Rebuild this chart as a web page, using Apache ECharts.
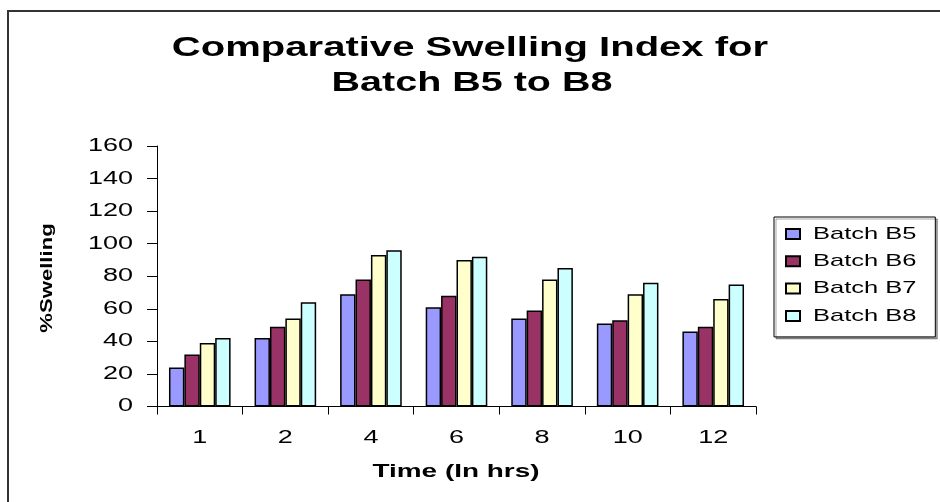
<!DOCTYPE html>
<html>
<head>
<meta charset="utf-8">
<script src="https://cdn.jsdelivr.net/npm/echarts@6/dist/echarts.min.js"></script>
<style>
html,body{margin:0;padding:0;background:#fff;}
#chart{width:940px;height:502px;}
</style>
</head>
<body>
<div id="chart"></div>
<script>
var titleLines = ['Comparative Swelling Index for', 'Batch B5 to B8'];
var xAxisTitle = 'Time (In hrs)';
var yAxisTitle = '%Swelling';
var categories = ['1', '2', '4', '6', '8', '10', '12'];
var seriesNames = ['Batch B5', 'Batch B6', 'Batch B7', 'Batch B8'];
var batchB5 = [24, 42, 69, 61, 54, 51, 46];
var batchB6 = [32, 49, 78, 68, 59, 53, 49];
var batchB7 = [39, 54, 93, 90, 78, 69, 66];
var batchB8 = [42, 64, 96, 92, 85, 76, 75];
var seriesColors = ['#9999FF', '#993366', '#FFFFCC', '#CCFFFF'];

var FONT = '"Liberation Sans", Arial, Helvetica, sans-serif';
var WIDE = 1.5; // the reference's lettering is drawn wide
var chart = echarts.init(document.getElementById('chart'), null, {renderer: 'canvas'});
var allData = [batchB5, batchB6, batchB7, batchB8];

function textEl(txt, x, y, size, sx, rot) {
  return {
    type: 'text', name: 'keepScale', x: x, y: y, rotation: rot || 0, scaleX: sx, silent: true,
    style: {
      text: txt, fill: '#000', font: 'bold ' + size + 'px ' + FONT,
      fontSize: size, fontWeight: 'bold', fontFamily: FONT,
      align: 'center', verticalAlign: 'middle',
      textAlign: 'center', textVerticalAlign: 'middle'
    }
  };
}

var option = {
  animation: false,
  backgroundColor: '#fff',
  textStyle: {fontFamily: FONT},
  grid: {left: 157, right: 184, top: 146, bottom: 95.5, containLabel: false},
  legend: {
    orient: 'vertical',
    left: 774, top: 217,
    padding: [7, 11, 11, 11],
    itemWidth: 14, itemHeight: 10,
    itemGap: 7.3,
    icon: 'rect',
    borderColor: '#000', borderWidth: 1,
    backgroundColor: '#fff',
    shadowColor: 'rgba(0,0,0,0.35)', shadowBlur: 0, shadowOffsetX: 2, shadowOffsetY: 2,
    textStyle: {color: '#000', fontSize: 17, fontFamily: FONT, lineHeight: 20, width: 114, padding: [0, 0, 0, 5.3]},
    data: seriesNames
  },
  xAxis: {
    type: 'category',
    data: categories,
    axisLine: {lineStyle: {color: '#000', width: 1}},
    axisTick: {show: true, length: 8, lineStyle: {color: '#000'}, alignWithLabel: false},
    axisLabel: {color: '#000', fontSize: 18, margin: 23, fontFamily: FONT},
    splitLine: {show: false}
  },
  yAxis: {
    type: 'value',
    min: 0, max: 160, interval: 20,
    axisLine: {show: true, lineStyle: {color: '#000', width: 1}},
    axisTick: {show: true, length: 10, lineStyle: {color: '#000'}},
    axisLabel: {color: '#000', fontSize: 18, margin: 24, fontFamily: FONT},
    splitLine: {show: false}
  },
  graphic: [
    {type: 'rect', silent: true, z: -10, shape: {x: 8, y: 11, width: 1000, height: 1000},
      style: {fill: 'none', stroke: '#333', lineWidth: 2}},
    textEl(titleLines[0], 470, 48, 28, 1.43),
    textEl(titleLines[1], 472, 83, 28, 1.41),
    textEl(xAxisTitle, 456, 472, 19, 1.47),
    textEl(yAxisTitle, 47, 278, 17, 1.3, Math.PI / 2)
  ],
  series: seriesNames.map(function (n, i) {
    return {
      name: n, type: 'bar', data: allData[i],
      barGap: '0%', barCategoryGap: '28%',
      itemStyle: {color: seriesColors[i], borderColor: '#000', borderWidth: 1.5}
    };
  })
};
chart.setOption(option);

// widen the axis-label and legend lettering like the reference
(function stretchTexts() {
  var zr = chart.getZr();
  var visit = function (el) {
    if (el.type !== 'text' || el.name === 'keepScale' || el.__wide) return;
    var r = el.getBoundingRect();
    var align = (el.style && (el.style.align || el.style.textAlign)) || 'left';
    var ox = r.x;
    if (align === 'right') ox = r.x + r.width;
    else if (align === 'center') ox = r.x + r.width / 2;
    el.originX = ox;
    el.originY = r.y + r.height / 2;
    el.scaleX = WIDE;
    el.__wide = true;
    el.markRedraw();
  };
  zr.storage.getRoots().forEach(function (root) {
    visit(root);
    if (typeof root.traverse === 'function') root.traverse(visit);
  });
  zr.refreshImmediately();
})();
</script>
</body>
</html>
